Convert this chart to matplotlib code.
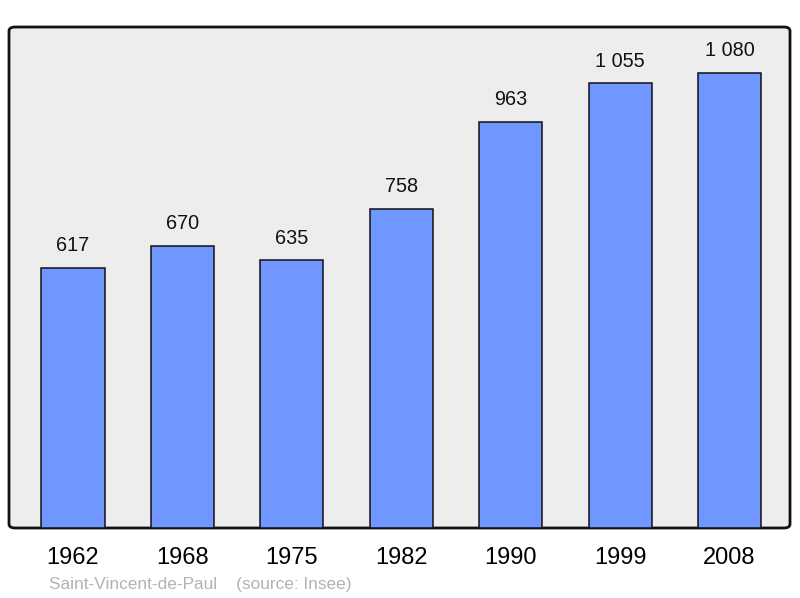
import matplotlib.pyplot as plt
from matplotlib.patches import FancyBboxPatch

plt.rcParams['font.family'] = ['Liberation Sans', 'DejaVu Sans']

years = ['1962', '1968', '1975', '1982', '1990', '1999', '2008']
population = [617, 670, 635, 758, 963, 1055, 1080]
labels = ['617', '670', '635', '758', '963', '1 055', '1 080']

fig = plt.figure(figsize=(8, 5.98), dpi=100)
ax = fig.add_axes([9 / 800, 1 - 528 / 598, 781 / 800, 501 / 598])
ax.set_facecolor('none')

# fond arrondi
frame = FancyBboxPatch((0, 0), 1, 1, boxstyle='round,pad=0,rounding_size=0.008',
                       transform=ax.transAxes, facecolor='#ededed',
                       edgecolor='#111111', linewidth=2, zorder=0, clip_on=False)
ax.add_patch(frame)

x = range(len(years))
ax.bar(x, population, width=0.576, color='#7096ff', edgecolor='#111111',
       linewidth=1.1, zorder=2)
for xi, v, lab in zip(x, population, labels):
    ax.text(xi, v + 53, lab, ha='center', va='center', fontsize=14.3, color='#111111')

ax.set_xlim(-0.585, 6.553)
ax.set_ylim(0, 1189)
for s in ax.spines.values():
    s.set_visible(False)
ax.set_yticks([])
ax.set_xticks(list(x))
ax.set_xticklabels(years, fontsize=17)
ax.tick_params(axis='x', length=0, pad=14)

fig.text(49 / 800, 1 - 584 / 598, 'Saint-Vincent-de-Paul    (source: Insee)',
         fontsize=12.4, color='#b3b3b3', ha='left', va='center')

fig.savefig('out.png', dpi=100)
